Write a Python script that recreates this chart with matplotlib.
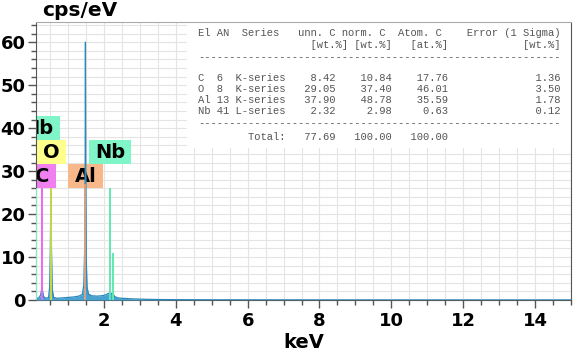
import matplotlib
matplotlib.use("Agg")
import matplotlib.pyplot as plt
from matplotlib.patches import Rectangle
from matplotlib.path import Path
from matplotlib.ticker import MultipleLocator

spec_keV = [0.11, 0.16, 0.20, 0.24, 0.26, 0.277, 0.295, 0.32, 0.38, 0.46, 0.49, 0.51,
            0.525, 0.54, 0.56, 0.60, 0.70, 0.85, 1.00, 1.15, 1.30, 1.40, 1.44, 1.465,
            1.478, 1.486, 1.494, 1.507, 1.53, 1.57, 1.65, 1.80, 1.95, 2.05, 2.12, 2.17,
            2.22, 2.26, 2.30, 2.38, 2.50, 2.70, 3.00, 3.40, 4.00, 5.00, 6.00, 8.00,
            10.00, 12.00, 15.00]
spec_cps = [0.3, 0.4, 0.6, 1.2, 2.2, 3.0, 2.0, 0.8, 0.4, 0.6, 3.0, 12.0,
            25.0, 12.0, 2.5, 0.6, 0.4, 0.5, 0.6, 0.7, 0.9, 1.3, 3.5, 12.0,
            30.0, 60.0, 30.0, 10.0, 3.0, 1.4, 1.0, 0.9, 1.0, 1.2, 1.5, 1.7,
            1.5, 1.3, 0.8, 0.5, 0.4, 0.3, 0.2, 0.12, 0.08, 0.05, 0.04, 0.03,
            0.02, 0.02, 0.02]

# ---- element line markers ----
marker_keV = [0.12, 0.277, 0.525, 1.486, 2.166, 2.257]
marker_height = [26, 26, 26, 27, 26, 11]
marker_colors = ["#80f0c4", "#ee66ee", "#c4d84c", "#d8a080", "#5fe8b0", "#5fe8b0"]

# ---- element labels ----
label_text = ["Nb", "O", "C", "Al", "Nb"]
label_keV = [0.18, 0.53, 0.28, 1.49, 2.17]
label_cps = [40.0, 34.4, 28.8, 28.8, 34.4]
label_colors = ["#80f5c8", "#ffff8c", "#f080f0", "#f8b88a", "#80f5c8"]

# ---- quantification table ----
tbl_el = ["C", "O", "Al", "Nb"]
tbl_an = [6, 8, 13, 41]
tbl_series = ["K-series", "K-series", "K-series", "L-series"]
tbl_unn = ["8.42", "29.05", "37.90", "2.32"]
tbl_norm = ["10.84", "37.40", "48.78", "2.98"]
tbl_atom = ["17.76", "46.01", "35.59", "0.63"]
tbl_err = ["1.36", "3.50", "1.78", "0.12"]
tbl_total = ["77.69", "100.00", "100.00"]


def wide_box(x0, y0, width, height, mutation_size):
    px = 0.32 * mutation_size
    py = 0.13 * mutation_size
    x0, y0 = x0 - px, y0 - py
    x1, y1 = x0 + width + 2 * px, y0 + height + 2 * py
    return Path([(x0, y0), (x1, y0), (x1, y1), (x0, y1), (x0, y0)], closed=True)


fig = plt.figure(figsize=(5.73, 3.52), dpi=100)
W, H = 573, 352
ax = fig.add_axes([36 / W, 1 - 300 / H, 535 / W, 278 / H])

ax.set_xlim(0.11, 15.0)
ax.set_ylim(0, 64.7)

# grid
ax.set_axisbelow(True)
ax.xaxis.set_major_locator(MultipleLocator(2))
ax.xaxis.set_minor_locator(MultipleLocator(0.5))
ax.yaxis.set_major_locator(MultipleLocator(10))
ax.yaxis.set_minor_locator(MultipleLocator(2))
ax.grid(True, which="both", color="#e4e4e4", lw=0.8)

# table background
tb_x = (187 - 36) / 535
tb_y = (300 - 148) / 278
ax.add_patch(Rectangle((tb_x, tb_y), 1 - tb_x, 1 - tb_y, transform=ax.transAxes,
                       facecolor="white", edgecolor="none", zorder=1))

# labels
for t, x, y, c in zip(label_text, label_keV, label_cps, label_colors):
    ax.text(x, y, t, ha="center", va="center", fontsize=14, fontweight="bold",
            color="black", zorder=2, clip_on=True,
            bbox=dict(boxstyle=wide_box, fc=c, ec="none"))

# spectrum
ax.fill_between(spec_keV, spec_cps, 0, color="#3d9fd0", lw=0, zorder=3, alpha=0.95)
ax.plot(spec_keV, spec_cps, color="#2c88ba", lw=0.9, zorder=3.1)

# marker lines
for x, h, c in zip(marker_keV, marker_height, marker_colors):
    ax.vlines(x, 0, h, color=c, lw=1.4, zorder=4)

# spines / ticks
for s in ["left", "bottom", "right"]:
    ax.spines[s].set_color("#555555")
ax.spines["top"].set_color("#aaaaaa")
ax.tick_params(which="major", direction="out", length=6, width=1, color="#555555",
               labelsize=13, pad=3)
ax.tick_params(which="minor", direction="out", length=3.5, width=1, color="#555555")
ax.tick_params(axis="y", which="major", pad=1.5)
for lab in ax.get_xticklabels() + ax.get_yticklabels():
    lab.set_fontweight("bold")
ax.set_xlabel("keV", fontsize=14, fontweight="bold", labelpad=2)
fig.text(42 / W, 1 - 16 / H, "cps/eV", fontsize=14.5, fontweight="bold", va="baseline")

# table text
mono = dict(family="Liberation Mono", fontsize=7.6, color="#555555", va="center",
            ha="left")
x0 = 198 / W
rows = []
rows.append((33, "El AN  Series   unn. C norm. C  Atom. C    Error (1 Sigma)"))
rows.append((45, " " * 18 + "[wt.%]" + " " + "[wt.%]" + "   " + "[at.%]" + " " * 12 + "[wt.%]"))
rows.append((57, "-" * 58))
for i in range(len(tbl_el)):
    s = (f"{tbl_el[i]:<2} {str(tbl_an[i]):<2} {tbl_series[i]}{tbl_unn[i]:>8}"
         f"{tbl_norm[i]:>9}{tbl_atom[i]:>9}{tbl_err[i]:>18}")
    rows.append((78 + 11 * i, s))
rows.append((123, "-" * 58))
rows.append((137, " " * 8 + "Total:" + f"{tbl_total[0]:>8}{tbl_total[1]:>9}{tbl_total[2]:>9}"))
for y, s in rows:
    fig.text(x0, 1 - y / H, s, **mono)

fig.savefig("out.png", dpi=100)
